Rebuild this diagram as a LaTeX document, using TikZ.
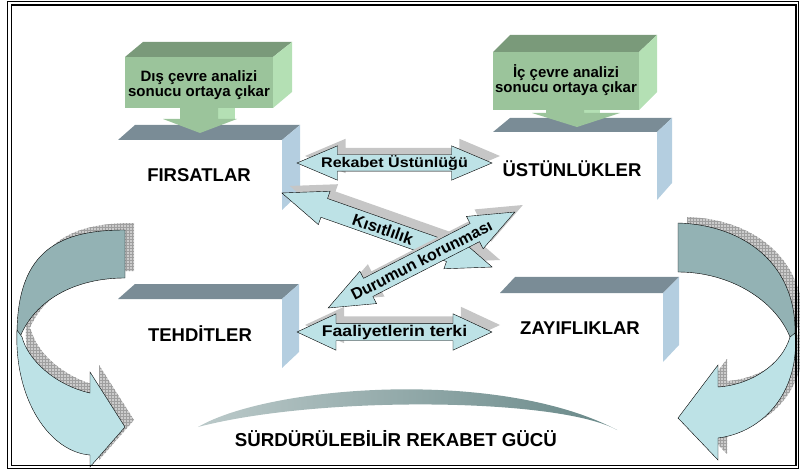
\documentclass[tikz,border=0pt]{standalone}
\usepackage{fontspec}
\setmainfont{Liberation Sans}
\usetikzlibrary{shapes.arrows,shadows,patterns}
\definecolor{barslate}{RGB}{122,140,150}
\definecolor{sideblue}{RGB}{180,206,224}
\definecolor{greenfront}{RGB}{155,196,155}
\definecolor{greentop}{RGB}{122,154,122}
\definecolor{greenside}{RGB}{180,224,180}
\definecolor{arrowcyan}{RGB}{189,226,230}
\definecolor{curvedark}{RGB}{147,178,180}
\definecolor{swooshdark}{RGB}{104,136,136}
\begin{document}
\begin{tikzpicture}[x=1pt,y=-1pt,
    bar/.style={fill=barslate},
    side/.style={fill=sideblue},
    title/.style={font=\fontsize{18.5}{21}\selectfont\bfseries, anchor=base, inner sep=0pt},
    boxtext/.style={font=\fontsize{15}{15.5}\selectfont\bfseries, align=center, inner sep=0pt},
    shadowfill/.style={fill=gray!40, postaction={pattern=grid, pattern color=gray!75}},
    blockarrow/.style={double arrow, draw=black, fill=arrowcyan, inner sep=0pt,
        drop shadow={shadow xshift=8pt, shadow yshift=7pt, fill=gray!45, opacity=1}},
    arrowtext/.style={font=\fontsize{14}{16}\selectfont\bfseries, inner sep=0pt}]
  \useasboundingbox (0,0) rectangle (800,470);

  % left curved arrow
  \begin{scope}[shift={(9,-7)}]
    \fill[shadowfill] (125,230) .. controls (60,230) and (18,250) .. (17,332) -- (20,337) .. controls (35,300) and (75,278) .. (125,278) -- cycle;
    \fill[shadowfill] (17,330) .. controls (14,400) and (50,452) .. (90,455) -- (90,467) -- (125,427) -- (90,372) -- (90,393) .. controls (55,385) and (28,360) .. (22,337) -- cycle;
  \end{scope}
  \filldraw[fill=curvedark, draw=black] (125,230) .. controls (60,230) and (18,250) .. (17,332) -- (20,337) .. controls (35,300) and (75,278) .. (125,278) -- cycle;
  \filldraw[fill=arrowcyan, draw=black] (17,330) .. controls (14,400) and (50,452) .. (90,455) -- (90,467) -- (125,427) -- (90,372) -- (90,393) .. controls (55,385) and (28,360) .. (22,337) -- cycle;

  % right curved arrow
  \begin{scope}[shift={(9,-6)}]
    \fill[shadowfill] (678,223) .. controls (745,225) and (797,265) .. (795,335) -- (790,337) .. controls (775,300) and (730,272) .. (678,272) -- cycle;
    \fill[shadowfill] (795,333) .. controls (800,390) and (765,432) .. (718,438) -- (718,460) -- (678,418) -- (718,365) -- (718,387) .. controls (750,385) and (782,365) .. (790,337) -- cycle;
  \end{scope}
  \filldraw[fill=curvedark, draw=black] (678,223) .. controls (745,225) and (797,265) .. (795,335) -- (790,337) .. controls (775,300) and (730,272) .. (678,272) -- cycle;
  \filldraw[fill=arrowcyan, draw=black] (795,333) .. controls (800,390) and (765,432) .. (718,438) -- (718,460) -- (678,418) -- (718,365) -- (718,387) .. controls (750,385) and (782,365) .. (790,337) -- cycle;

  % the four boxes
  \fill[bar] (118,140) -- (135,125) -- (300,125) -- (282,140) -- cycle;
  \fill[side] (282,140) -- (300,125) -- (300,193) -- (282,210) -- cycle;
  \node[title] (firsat) at (199,182) {FIRSATLAR};
  \fill[bar] (493,132) -- (510,118) -- (672,118) -- (657,132) -- cycle;
  \fill[side] (657,132) -- (672,118) -- (672,183) -- (657,200) -- cycle;
  \node[title] (ustun) at (572,177) {ÜSTÜNLÜKLER};
  \fill[bar] (118,299) -- (135,284) -- (299,284) -- (282,299) -- cycle;
  \fill[side] (282,299) -- (299,284) -- (299,352) -- (282,368) -- cycle;
  \node[title] (tehdit) at (200,341) {TEHDİTLER};
  \fill[bar] (500,293) -- (515,277) -- (679,277) -- (663,293) -- cycle;
  \fill[side] (663,293) -- (679,277) -- (679,345) -- (663,362) -- cycle;
  \node[title] (zayif) at (580,334) {ZAYIFLIKLAR};

  % green blocks
  \fill[greentop] (125,57) -- (143,42) -- (292,42) -- (273,57) -- cycle;
  \fill[greenside] (273,57) -- (292,42) -- (292,92) -- (273,108) -- cycle;
  \fill[greenfront] (125,57) rectangle (273,108);
  \fill[greenside] (218,108) -- (235,108) -- (235,119) -- (218,119) -- cycle;
  \fill[greenfront] (180,108) -- (218,108) -- (218,119) -- (237,119) -- (200,133) -- (163,119) -- (180,119) -- cycle;
  \node[boxtext] (dis) at (199,85) {Dış çevre analizi\\sonucu ortaya çıkar};
  \fill[greentop] (493,52) -- (510,35) -- (657,35) -- (639,52) -- cycle;
  \fill[greenside] (639,52) -- (657,35) -- (657,92) -- (639,110) -- cycle;
  \fill[greenfront] (493,52) rectangle (639,110);
  \fill[greenside] (584,110) -- (600,110) -- (600,113) -- (584,113) -- cycle;
  \fill[greenfront] (546,110) -- (584,110) -- (584,113) -- (620,113) -- (577,127) -- (532,113) -- (546,113) -- cycle;
  \node[boxtext] (ic) at (566,80) {İç çevre analizi\\sonucu ortaya çıkar};

  % block arrows
  \node[blockarrow, minimum height=195pt, inner ysep=8pt, double arrow head extend=9pt, double arrow tip angle=46] (rekabet) at (394.5,163) {};
  \node[arrowtext] at (rekabet.center) {\scalebox{1.15}[1]{Rekabet Üstünlüğü}};
  \node[blockarrow, minimum height=195pt, inner ysep=8.5pt, double arrow head extend=9.5pt, double arrow tip angle=50] (faaliyet) at (394.5,332) {};
  \node[arrowtext, font=\fontsize{15.5}{17}\selectfont\bfseries] at (faaliyet.center) {\scalebox{1.14}[1]{Faaliyetlerin terki}};
  \node[blockarrow, minimum height=223pt, inner ysep=9.75pt, double arrow head extend=7.75pt, double arrow tip angle=43, rotate=-19.4] (kisit) at (387,230) {};
  \node[arrowtext, font=\fontsize{16.5}{18}\selectfont\bfseries, rotate=-19.4] at ([shift={(-4,-1)}]kisit.center) {Kısıtlılık};
  \node[blockarrow, minimum height=210pt, inner ysep=10pt, double arrow head extend=8pt, double arrow tip angle=44, rotate=27.2] (durum) at (421.5,260) {};
  \node[arrowtext, font=\fontsize{16}{18}\selectfont\bfseries, rotate=27.2] at (durum.center) {Durumun korunması};

  % bottom swoosh
  \shade[left color=swooshdark!45, right color=swooshdark] (198,427) .. controls (270,385) and (500,368) .. (617,430) .. controls (560,398) and (320,395) .. cycle;
  \node[font=\fontsize{18.7}{20}\selectfont\bfseries] (gucu) at (396,439) {SÜRDÜRÜLEBİLİR REKABET GÜCÜ};

  % frame
  \draw[line width=0.8pt] (7.5,1.2) rectangle (798.5,468.8);
  \draw[line width=1.6pt] (11.5,5) rectangle (796,465.5);
\end{tikzpicture}
\end{document}
